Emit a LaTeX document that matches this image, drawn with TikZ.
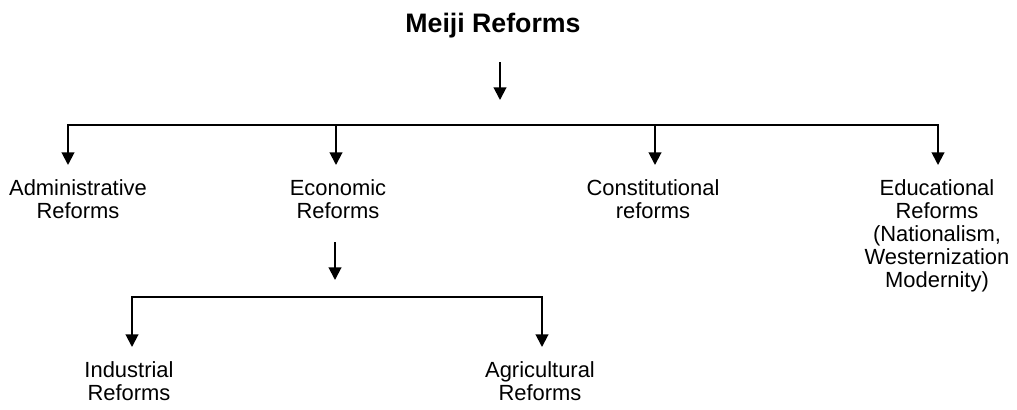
\documentclass[tikz,border=0pt]{standalone}
\usepackage{fontspec}
\setmainfont{Liberation Sans}
\usetikzlibrary{arrows.meta}
\tikzset{
  link/.style={line width=1.4pt},
  arr/.style={link, -{Triangle[width=9pt,length=9pt]}},
  arrs/.style={link, {Triangle[width=9pt,length=9pt]}-{Triangle[width=9pt,length=9pt]}},
  reform/.style={align=center, anchor=north, inner sep=0.35cm, font=\fontsize{15.6}{16.4}\selectfont},
}
\begin{document}
\begin{tikzpicture}[x=0.025cm, y=-0.025cm]
\useasboundingbox (0,0) rectangle (1017,409);
% Titel
\node[font=\fontsize{19}{22}\selectfont\bfseries] (meiji) at (493,26) {Meiji Reforms};
\coordinate (m1) at (500,62);
\coordinate (m2) at (500,100);
\draw[arr] (m1) -- (m2);

% erste Ebene
\coordinate (b1) at (68,125);
\coordinate (b2) at (336,125);
\coordinate (b3) at (655,125);
\coordinate (b4) at (938,125);
\node[reform] (admin) at (78,165) {Administrative\\Reforms};
\node[reform] (econ) at (338,165) {Economic\\Reforms};
\node[reform] (const) at (653,165) {Constitutional\\reforms};
\node[reform] (edu) at (937,165) {Educational\\Reforms\\(Nationalism,\\Westernization\\Modernity)};
\draw[arrs] (admin.north -| b1) -- (b1) -- (b4) -- (b4 |- edu.north);
\draw[arr] (b2) -- (b2 |- econ.north);
\draw[arr] (b3) -- (b3 |- const.north);

% zweite Ebene
\coordinate (e1) at (335,242);
\coordinate (e2) at (335,280);
\draw[arr] (e1) -- (e2);
\coordinate (c1) at (132,297);
\coordinate (c2) at (542,297);
\node[reform] (indus) at (129,347) {Industrial\\Reforms};
\node[reform] (agri) at (540,347) {Agricultural\\Reforms};
\draw[arrs] (indus.north -| c1) -- (c1) -- (c2) -- (c2 |- agri.north);
\end{tikzpicture}
\end{document}
